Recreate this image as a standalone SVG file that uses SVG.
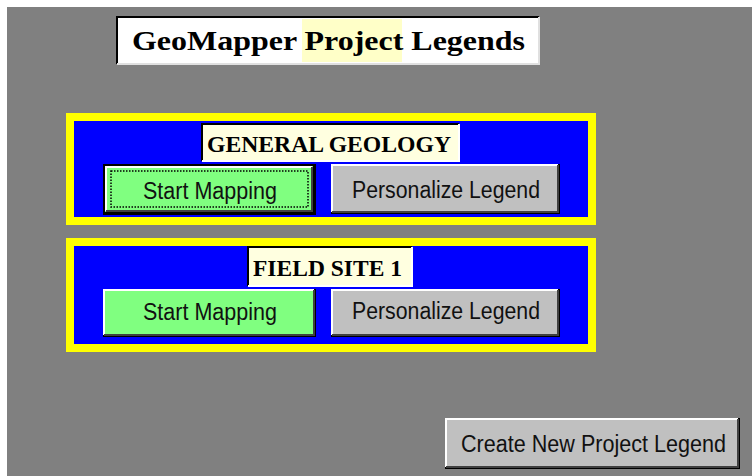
<svg xmlns="http://www.w3.org/2000/svg" width="752" height="476" viewBox="0 0 752 476">
<style>
.serif{font-family:"Liberation Serif","Times New Roman",serif;font-weight:bold;fill:#000}
.sans{font-family:"Liberation Sans",Arial,sans-serif;fill:#111;font-size:23px}
.panel{fill:#0000ff;stroke:#ffff00;stroke-width:8}
.label{fill:#ffffe0}
.hi{fill:none;stroke:#ffffff;stroke-width:2}
.sh{fill:none;stroke:#404040;stroke-width:2}
.dk{fill:none;stroke:#000;stroke-width:2}
.gbtn{fill:#c0c0c0}
.green{fill:#80ff80}
</style>
<rect x="0" y="0" width="752" height="476" fill="#ffffff"/>
<rect x="7" y="7" width="745" height="469" fill="#808080"/>

<g id="title">
  <rect x="117" y="17" width="422" height="47" fill="#ffffff"/>
  <rect x="302" y="19" width="100" height="43" fill="#ffffc8"/>
  <polyline points="117,64 117,17 539,17" class="dk"/>
  <polyline points="539,17 539,64 117,64" fill="none" stroke="#e0e0e0" stroke-width="2"/>
  <text x="132" y="50" class="serif" font-size="28" textLength="393" lengthAdjust="spacingAndGlyphs">GeoMapper Project Legends</text>
</g>

<g id="panel-general-geology">
  <rect x="70" y="117" width="522" height="104" class="panel"/>
  <g id="label-general-geology">
    <rect x="202" y="124" width="257" height="37" class="label"/>
    <polyline points="202,161 202,124 459,124" class="dk"/>
    <polyline points="459,124 459,161 202,161" class="hi"/>
    <text x="207" y="152" class="serif" font-size="24" textLength="244" lengthAdjust="spacingAndGlyphs">GENERAL GEOLOGY</text>
  </g>
  <g id="btn-start-1">
    <rect x="103" y="164" width="213" height="51" fill="#000"/>
    <rect x="105" y="166" width="208" height="46" class="green"/>
    <polyline points="106,211 106,167 312,167" class="hi"/>
    <polyline points="106,211 312,211 312,167" class="sh"/>
    <rect x="111" y="171" width="197" height="36" fill="none" stroke="#000" stroke-width="1.5" stroke-dasharray="1.5,1.5"/>
    <text x="143" y="199" class="sans" textLength="134" lengthAdjust="spacingAndGlyphs">Start Mapping</text>
  </g>
  <g id="btn-personalize-1">
    <rect x="331" y="164" width="229" height="50" fill="#000"/>
    <rect x="331" y="164" width="227" height="48" class="gbtn"/>
    <polyline points="332,212 332,165 558,165" class="hi"/>
    <polyline points="332,212 558,212 558,165" class="sh"/>
    <text x="352" y="198" class="sans" textLength="188" lengthAdjust="spacingAndGlyphs">Personalize Legend</text>
  </g>
</g>

<g id="panel-field-site-1">
  <rect x="70" y="242" width="522" height="106" class="panel"/>
  <g id="label-field-site-1">
    <rect x="248" y="247" width="164" height="39" class="label"/>
    <polyline points="248,286 248,247 412,247" class="dk"/>
    <polyline points="412,247 412,286 248,286" class="hi"/>
    <text x="253" y="276" class="serif" font-size="24" textLength="149" lengthAdjust="spacingAndGlyphs">FIELD SITE 1</text>
  </g>
  <g id="btn-start-2">
    <rect x="103" y="289" width="213" height="48" fill="#000"/>
    <rect x="103" y="289" width="211" height="46" class="green"/>
    <polyline points="104,335 104,290 314,290" class="hi"/>
    <polyline points="104,335 314,335 314,290" class="sh"/>
    <text x="143" y="320" class="sans" textLength="134" lengthAdjust="spacingAndGlyphs">Start Mapping</text>
  </g>
  <g id="btn-personalize-2">
    <rect x="331" y="289" width="229" height="48" fill="#000"/>
    <rect x="331" y="289" width="227" height="46" class="gbtn"/>
    <polyline points="332,335 332,290 558,290" class="hi"/>
    <polyline points="332,335 558,335 558,290" class="sh"/>
    <text x="352" y="319" class="sans" textLength="188" lengthAdjust="spacingAndGlyphs">Personalize Legend</text>
  </g>
</g>

<g id="btn-create-new">
  <rect x="445" y="418" width="295" height="51" fill="#000"/>
  <rect x="445" y="418" width="293" height="49" class="gbtn"/>
  <polyline points="446,467 446,419 738,419" class="hi"/>
  <polyline points="446,467 738,467 738,419" class="sh"/>
  <text x="461" y="452" class="sans" textLength="265" lengthAdjust="spacingAndGlyphs">Create New Project Legend</text>
</g>
</svg>
